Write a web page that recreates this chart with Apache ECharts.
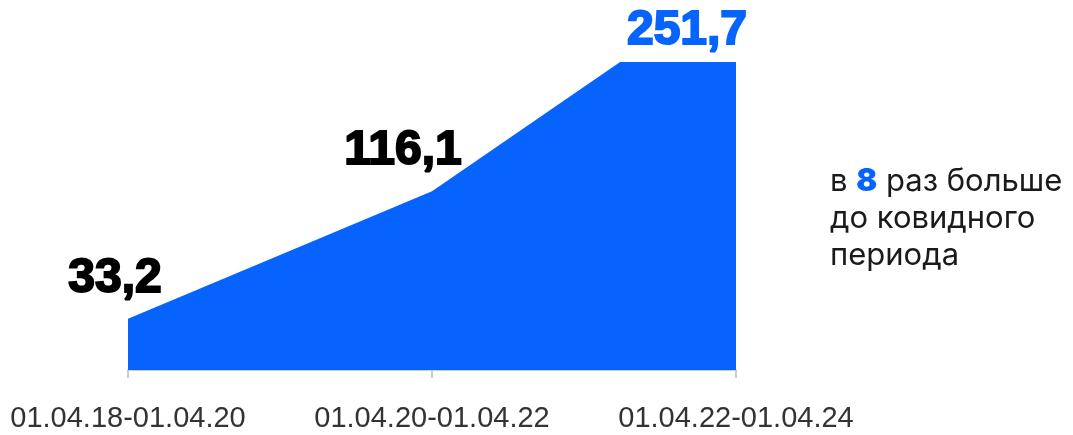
<!DOCTYPE html>
<html>
<head>
<meta charset="utf-8">
<script src="https://cdn.jsdelivr.net/npm/echarts@6/dist/echarts.min.js"></script>
<style>
  html, body { margin: 0; padding: 0; background: #fff; }
  #chart { width: 1073px; height: 435px; }
</style>
</head>
<body>
<div id="chart"></div>
<script>
// data
const periods = ['01.04.18-01.04.20', '01.04.20-01.04.22', '01.04.22-01.04.24']
const values = [33.2, 116.1, 251.7]
const yMax = 200 // axis is cut, the last value goes above it
const noteTimes = 8

const blue = '#0763fd'

const fmt = v => v.toFixed(1).replace('.', ',')

const chart = echarts.init(document.getElementById('chart'))

// label offsets per point (relative to the point)
const labelOffsets = [[-13, -40], [-29, -40], [-49, -31]]

const marks = values.map((v, i) => ({
  coord: [i, Math.min(v, yMax)],
  value: v,
  label: {
    offset: labelOffsets[i],
    color: i === values.length - 1 ? blue : '#000',
    textBorderColor: i === values.length - 1 ? blue : '#000'
  }
}))

chart.setOption({
  animation: false,
  grid: {
    left: 128,
    right: 337,
    top: 62,
    bottom: 65
  },
  xAxis: {
    type: 'category',
    data: periods,
    boundaryGap: false,
    axisLine: { lineStyle: { color: '#cccccc', width: 2 } },
    axisTick: { show: true, length: 8, lineStyle: { color: '#cccccc', width: 2 } },
    axisLabel: {
      interval: 0,
      hideOverlap: false,
      margin: 34,
      fontSize: 29,
      color: '#333',
      fontFamily: 'Liberation Sans, Arial, sans-serif'
    }
  },
  yAxis: {
    type: 'value',
    min: 0,
    max: yMax,
    show: false
  },
  series: [{
    type: 'line',
    data: values,
    symbol: 'none',
    clip: true,
    lineStyle: { width: 0 },
    areaStyle: { color: blue, opacity: 1 },
    markPoint: {
      symbol: 'circle',
      symbolSize: 0,
      label: {
        show: true,
        position: 'inside',
        formatter: p => fmt(p.value),
        fontSize: 48,
        fontWeight: 900,
        fontFamily: 'Liberation Sans, Arial, sans-serif',
        textBorderWidth: 2
      },
      data: marks
    }
  }],
  graphic: [{
    type: 'text',
    left: 830,
    top: 166,
    style: {
      text: '{t|в }{n|' + noteTimes + '}{t| раз больше}\n{t|до ковидного}\n{t|периода}',
      rich: {
        t: { fontSize: 31, lineHeight: 37, fill: '#1a1a1a', fontFamily: 'Inter, Roboto, sans-serif' },
        n: { fontSize: 31, lineHeight: 37, fill: blue, fontWeight: 900, fontFamily: 'Inter, Roboto, sans-serif' }
      }
    }
  }]
})
</script>
</body>
</html>
